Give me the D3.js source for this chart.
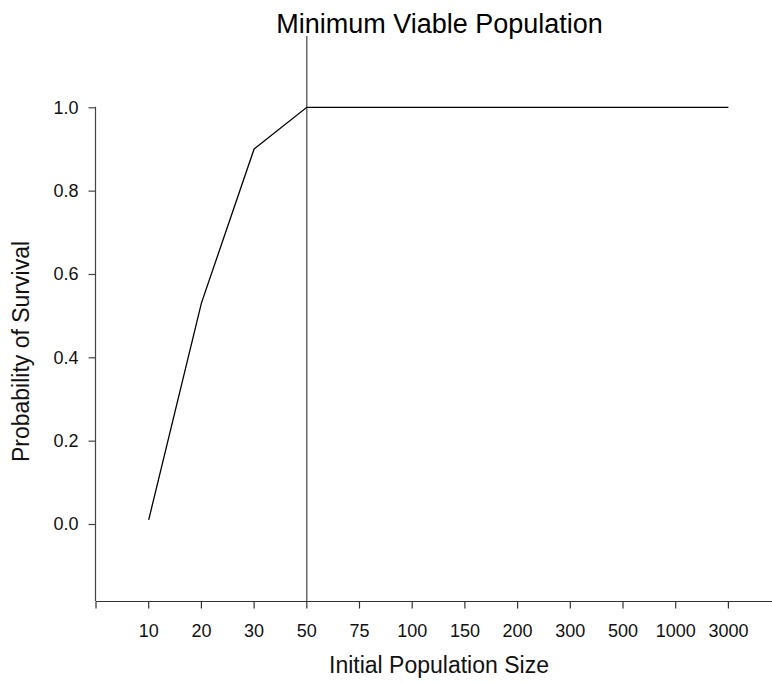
<!DOCTYPE html>
<html>
<head>
<meta charset="utf-8">
<script src="https://cdn.jsdelivr.net/npm/d3@7"></script>
<style>
  body { margin: 0; background: #fff; }
  svg { display: block; font-family: "Liberation Sans", Arial, sans-serif; }
</style>
</head>
<body>
<svg id="chart" width="772" height="683"></svg>
<script>
const categories = ["10", "20", "30", "50", "75", "100", "150", "200", "300", "500", "1000", "3000"];
const survival = [0.01, 0.53, 0.90, 1.0, 1.0, 1.0, 1.0, 1.0, 1.0, 1.0, 1.0, 1.0];
const yTicks = [0.0, 0.2, 0.4, 0.6, 0.8, 1.0];
const markerCategory = "50";
const title = "Minimum Viable Population";
const xTitle = "Initial Population Size";
const yTitle = "Probability of Survival";

const svg = d3.select("#chart");

// x: categorical positions; index -1 is the axis origin
const xIdx = d3.scaleLinear().domain([-1, 0]).range([96, 148.7]);
const x = c => xIdx(categories.indexOf(c));
const y = d3.scaleLinear().domain([0, 1]).range([524, 107.3]);
const yBottom = 601;

// Y axis
const yAxis = d3.axisLeft(y).tickValues(yTicks).tickFormat(d3.format(".1f")).tickSizeOuter(0).tickSize(7).tickPadding(10);
const gy = svg.append("g").attr("transform", "translate(95.5,0)").call(yAxis);
gy.select(".domain").remove();
gy.append("line").attr("x1", 0).attr("x2", 0).attr("y1", y(1) - 0.6).attr("y2", yBottom).attr("stroke", "#444").attr("stroke-width", 1.2);
gy.selectAll(".tick line").attr("stroke", "#444").attr("stroke-width", 1.2);
gy.selectAll(".tick text").attr("fill", "#111").style("font-size", "18px").style("font-family", "Liberation Sans, Arial, sans-serif");

// X axis
const gx = svg.append("g").attr("transform", `translate(0,${yBottom + 0.5})`);
gx.append("line").attr("x1", 96).attr("x2", 772).attr("stroke", "#333").attr("stroke-width", 1.2);
const xt = [-1].concat(d3.range(categories.length));
gx.selectAll("line.tk").data(xt).join("line").attr("class", "tk")
  .attr("x1", d => xIdx(d)).attr("x2", d => xIdx(d)).attr("y1", 0).attr("y2", 7)
  .attr("stroke", "#333").attr("stroke-width", 1.2);
gx.selectAll("text.tl").data(categories).join("text").attr("class", "tl")
  .attr("x", d => x(d)).attr("y", 35.5).attr("text-anchor", "middle")
  .attr("fill", "#111").style("font-size", "18px").text(d => d);

// Marker vertical line
svg.append("line").attr("x1", x(markerCategory)).attr("x2", x(markerCategory))
  .attr("y1", 36).attr("y2", yBottom).attr("stroke", "#444").attr("stroke-width", 1.2);

// Data line
const line = d3.line().x((d, i) => xIdx(i)).y(d => y(d));
svg.append("path").datum(survival).attr("d", line).attr("fill", "none")
  .attr("stroke", "#000").attr("stroke-width", 1.3);

// Titles
svg.append("text").attr("x", 439.5).attr("y", 33).attr("text-anchor", "middle")
  .style("font-size", "27px").attr("fill", "#000").text(title);
svg.append("text").attr("x", 439).attr("y", 673).attr("text-anchor", "middle")
  .style("font-size", "23px").attr("fill", "#111").text(xTitle);
svg.append("text").attr("transform", "translate(29,351.5) rotate(-90)").attr("text-anchor", "middle")
  .style("font-size", "23px").attr("fill", "#111").text(yTitle);
</script>
</body>
</html>
